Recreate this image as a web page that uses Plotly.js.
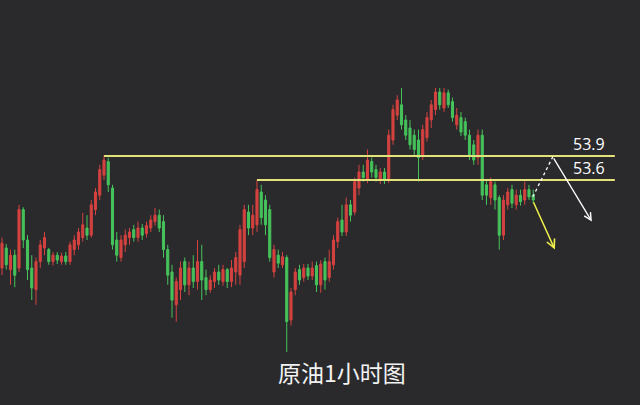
<!DOCTYPE html>
<html>
<head>
<meta charset="utf-8">
<script src="https://cdn.plot.ly/plotly-3.0.1.min.js"></script>
<style>
html,body{margin:0;padding:0;background:#2a2a2d;}
#chart{width:640px;height:405px;}
</style>
</head>
<body>
<div id="chart"></div>
<script>
const openP = [52.50,52.75,52.48,52.66,52.50,53.23,52.85,52.50,52.23,52.58,
52.75,52.73,52.58,52.66,52.58,52.65,52.58,52.73,52.79,52.88,
53.00,52.91,53.23,53.41,53.66,53.83,53.50,52.85,52.63,52.79,
52.88,52.98,52.88,53.00,52.93,53.00,53.08,53.16,53.08,52.73,
52.45,52.04,52.23,52.58,52.29,52.50,52.33,52.58,52.38,52.23,
52.33,52.45,52.33,52.48,52.33,52.45,52.41,52.58,53.20,53.00,
53.04,53.45,53.35,53.23,52.45,52.66,52.54,52.63,51.85,52.23,
52.48,52.38,52.50,52.40,52.53,52.29,52.58,52.38,52.54,52.83,
53.10,52.95,53.29,53.20,53.50,53.70,53.60,53.83,53.73,53.60,
53.70,53.60,54.10,54.41,54.54,54.35,54.25,54.16,54.10,53.91,
54.13,54.35,54.48,54.70,54.50,54.69,54.58,54.29,54.38,54.33,
54.16,54.04,53.88,54.16,53.54,53.38,53.54,53.38,52.91,53.29,
53.48,53.29,53.41,53.35,53.48,53.41];
const closeP = [52.81,52.54,52.66,52.41,53.23,52.85,52.48,52.25,52.58,52.79,
52.88,52.58,52.66,52.60,52.65,52.58,52.79,52.85,52.95,53.04,
52.91,53.29,53.45,53.73,53.85,53.54,52.79,52.66,52.85,52.91,
52.95,52.88,53.00,52.91,53.03,53.10,53.16,53.00,52.73,52.41,
52.10,52.33,52.50,52.29,52.50,52.33,52.58,52.35,52.23,52.35,
52.45,52.35,52.48,52.33,52.50,52.63,52.98,53.23,53.00,53.16,
53.48,53.13,53.04,52.63,52.73,52.56,52.64,51.83,52.20,52.45,
52.35,52.50,52.40,52.50,52.29,52.55,52.35,52.58,52.85,53.08,
52.95,53.29,53.16,53.58,53.70,53.63,53.85,53.70,53.63,53.70,
53.60,54.16,54.48,54.60,54.29,54.16,54.04,53.98,53.88,54.23,
54.38,54.54,54.70,54.54,54.69,54.54,54.38,54.41,54.20,54.16,
53.91,53.85,54.16,53.41,53.41,53.58,53.35,52.91,53.35,53.45,
53.31,53.41,53.33,53.48,53.39,53.35];
const highP = [52.88,52.80,52.73,52.73,53.29,53.26,52.91,52.66,52.63,52.85,
52.95,52.75,52.70,52.70,52.69,52.70,52.83,52.91,53.00,53.19,
53.16,53.35,53.50,53.79,53.91,53.88,53.54,52.95,52.91,52.98,
53.00,53.04,53.08,53.05,53.08,53.16,53.25,53.23,53.16,52.79,
52.54,52.38,52.58,52.63,52.58,52.66,52.85,52.79,52.48,52.41,
52.50,52.54,52.54,52.50,52.60,52.70,53.04,53.29,53.29,53.29,
53.60,53.54,53.41,53.29,52.79,52.73,52.70,52.66,52.25,52.50,
52.54,52.55,52.55,52.58,52.58,52.60,52.63,52.73,52.91,53.13,
53.29,53.38,53.35,53.63,53.79,53.79,53.98,53.88,53.79,53.75,
53.75,54.23,54.54,54.66,54.75,54.41,54.35,54.23,54.23,54.29,
54.45,54.60,54.75,54.75,54.75,54.73,54.63,54.50,54.45,54.38,
54.23,54.10,54.23,54.23,53.60,53.63,53.58,53.41,53.41,53.50,
53.54,53.48,53.48,53.58,53.54,53.48];
const lowP = [52.41,52.48,52.29,52.26,52.45,52.75,52.35,52.10,52.04,52.50,
52.66,52.54,52.53,52.55,52.54,52.54,52.54,52.66,52.73,52.83,
52.85,52.88,53.16,53.35,53.60,53.45,52.73,52.58,52.58,52.70,
52.79,52.83,52.83,52.85,52.88,52.95,53.03,52.95,52.63,52.29,
51.88,51.83,52.10,52.20,52.16,52.25,52.23,52.10,52.16,52.19,
52.25,52.29,52.28,52.25,52.26,52.29,52.29,52.50,52.91,52.91,
52.95,53.04,52.91,52.58,52.38,52.50,52.50,51.45,51.78,52.16,
52.29,52.33,52.35,52.35,52.20,52.19,52.23,52.33,52.48,52.75,
52.90,52.90,53.08,53.16,53.41,53.58,53.56,53.63,53.58,53.55,
53.55,53.56,54.04,54.35,54.23,54.10,53.98,53.91,53.58,53.85,
54.08,54.25,54.41,54.48,54.45,54.50,54.33,54.23,54.15,54.10,
53.85,53.79,53.79,53.35,53.29,53.29,53.23,52.73,52.85,53.23,
53.25,53.23,53.28,53.29,53.35,53.31];

// Key levels, and the bar index where each level line starts
const levels = [53.9, 53.6];
const levelLabels = ['53.9', '53.6'];
const levelStart = [24, 60];
const levelEnd = 144.2;

// Projected path (white): dashed up to 53.9, then solid down
const projX = [124.9, 129.6, 138.8];
const projY = [53.39, 53.89, 53.08];
// Alternative path (yellow)
const altX = [124.9, 130.1];
const altY = [53.34, 52.73];

const titleText = '原油1小时图';

const xIdx = openP.map((_, i) => i);

const trace = {
  type: 'candlestick',
  x: xIdx, open: openP, high: highP, low: lowP, close: closeP,
  increasing: {line: {color: '#d4423f', width: 1}, fillcolor: '#d4423f'},
  decreasing: {line: {color: '#46c35a', width: 1}, fillcolor: '#46c35a'},
  whiskerwidth: 0,
  hoverinfo: 'skip'
};

const lineColor = '#e2e27a';
const shapes = [];
levels.forEach((lv, k) => {
  shapes.push({type: 'line', xref: 'x', yref: 'y', x0: levelStart[k], x1: levelEnd, y0: lv, y1: lv,
    line: {color: lineColor, width: 2}});
});
shapes.push({type: 'line', xref: 'x', yref: 'y', x0: projX[0], y0: projY[0], x1: projX[1], y1: projY[1],
  line: {color: '#ffffff', width: 1.3, dash: '3px,3px'}});

const annotations = [];
levels.forEach((lv, k) => {
  annotations.push({xref: 'x', yref: 'y', x: 133.9, y: lv, text: levelLabels[k], showarrow: false,
    xanchor: 'left', yanchor: 'bottom', yshift: -1,
    font: {family: 'Open Sans, Noto Sans, sans-serif', size: 16, color: '#ffffff'}});
});
annotations.push({xref: 'x', yref: 'y', axref: 'x', ayref: 'y', x: projX[2], y: projY[2], ax: projX[1], ay: projY[1],
  text: '', showarrow: true, arrowhead: 5, arrowsize: 1.1, arrowwidth: 1.3, arrowcolor: '#ffffff'});
annotations.push({xref: 'x', yref: 'y', axref: 'x', ayref: 'y', x: altX[1], y: altY[1], ax: altX[0], ay: altY[0],
  text: '', showarrow: true, arrowhead: 5, arrowsize: 1.1, arrowwidth: 1.5, arrowcolor: '#f0f04a'});
annotations.push({xref: 'paper', yref: 'paper', x: 0.535, y: 0.082, xanchor: 'center', yanchor: 'middle',
  text: titleText, showarrow: false,
  font: {family: 'Noto Sans CJK SC, sans-serif', size: 23, color: '#f2f2f2'}});

const layout = {
  width: 640, height: 405,
  margin: {l: 0, r: 0, t: 0, b: 0},
  paper_bgcolor: '#2a2a2d', plot_bgcolor: '#2a2a2d',
  showlegend: false,
  xaxis: {range: [-0.47, 150.12], visible: false, rangeslider: {visible: false}, fixedrange: true},
  yaxis: {range: [50.7875, 55.85], visible: false, fixedrange: true},
  shapes: shapes, annotations: annotations
};

Plotly.newPlot('chart', [trace], layout, {staticPlot: true, displayModeBar: false});
</script>
</body>
</html>
